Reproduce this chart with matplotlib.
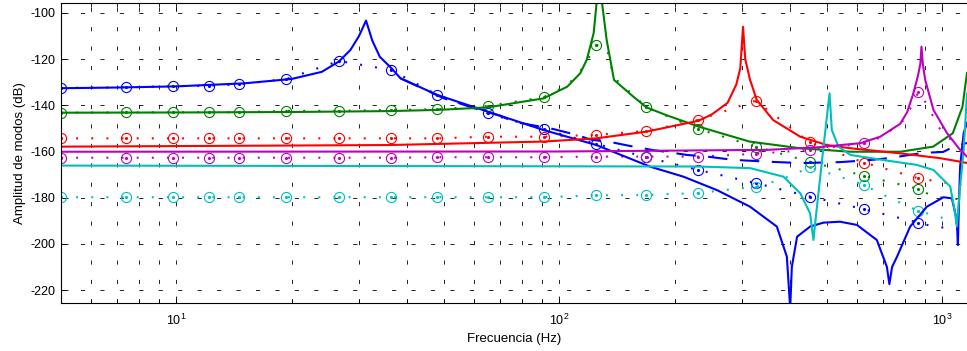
import numpy as np
import matplotlib.pyplot as plt

plt.rcParams['font.family'] = ['Liberation Sans', 'DejaVu Sans']
plt.rcParams['axes.unicode_minus'] = False
plt.rcParams['lines.scale_dashes'] = False

# frequencies of the circle markers (Hz)
f_mk = [5, 7.4, 9.8, 12.2, 14.6, 19.4, 26.6, 36.4, 48, 65, 91, 125, 169, 231, 326, 451, 625, 867]

# ---- mode 1 (blue)
blue_f = [5, 7, 10, 15, 20, 24, 26.6, 28.5, 30, 31.3, 32.5, 34, 36.5, 38.5, 48, 65, 91, 125, 173,
          211, 258, 315, 370, 393, 401, 405, 418, 452, 490, 541, 599, 675, 717, 728, 740, 762, 825,
          912, 1008, 1060, 1092, 1099, 1105, 1114, 1138, 1161]
blue_db = [-132.6, -132.3, -131.8, -130.5, -128.6, -125.5, -121, -116, -110, -103.3, -112, -119,
           -124, -128.3, -135.5, -142.7, -150.7, -157.2, -166.6,
           -170.9, -176.7, -183.9, -192.5, -205.5, -228, -209.9, -196.9, -192.5, -190.8, -190.4,
           -191.8, -198.3, -209.9, -217.4, -210, -205.6, -192.5,
           -183.9, -179.8, -180.3, -189.7, -200.5, -185, -166.5, -152, -147.6]
blue_dash_f = [38.5, 50, 62, 70, 76, 89, 96.6, 111, 120.5, 139, 153, 176, 191, 216, 243, 284, 349,
               426, 541, 649, 731, 891, 1006, 1069, 1161]
blue_dash_db = [-128.3, -137, -142, -144.5, -147.1, -149.2, -150.3, -152.8, -154.8, -156.2, -157.6,
                -159.4, -160.2, -161.5, -162.2, -163.6, -164.4, -165, -164.6, -163.7, -162.8,
                -160.6, -160.2, -158, -156.3]
blue_mk = [-132.5, -132.2, -131.7, -131.5, -130.9, -128.6, -120.8, -124.7, -135.5, -143.5, -150.4,
           -156.7, -162.5, -168, -173.7, -179.5, -185, -190.8]
blue_dot_f = [950, 1161]
blue_dot_db = [-192.5, -194]

# ---- mode 2 (green)
green_f = [5, 10, 20, 36, 48, 65, 91, 105, 113.5, 118, 123, 127, 133, 139, 156, 169, 190, 231, 314,
           426, 576, 778, 947, 1066, 1130, 1161]
green_db = [-143.2, -143.1, -142.9, -142.5, -142, -140.9, -137, -131.9, -126.1, -120.3, -108.8, -85,
            -111.7, -129, -136.2, -140.9, -144.2, -149.2, -155.7,
            -158.6, -160.1, -160.1, -157.9, -152.1, -140.6, -126]
green_mk = [-143.2, -143.1, -143, -143, -143, -142.4, -142.4, -142, -141.7, -140.3, -136.5, -113.9,
            -140.9, -150.3, -157.9, -164.4, -170.5, -176.2]
green_dot_f = [105, 115, 133, 139, 950, 1161]
green_dot_db = [-131.5, -124, -115, -128, -179.6, -181]

# ---- mode 3 (red)
red_f = [5, 36, 91, 125, 169, 231, 250, 275, 290, 297, 302, 306, 315, 328, 362, 426, 500, 576, 777,
         988, 1114, 1161]
red_db = [-157.9, -157.2, -155.7, -154.3, -151.4, -146.7, -144, -139, -131, -124, -106, -120, -129,
          -137.7, -146.4, -153.6, -157.2, -158.6, -160.8, -162.9, -164.4, -165]
red_mk = [-154.3, -154.3, -154.3, -154.3, -154.3, -154.3, -154.3, -154.3, -154.3, -153.6, -153.6,
          -152.8, -151.1, -146.3, -138, -156.1, -164.8, -171.6]
red_dot_f = [1000, 1161]
red_dot_db = [-173.3, -174.5]

# ---- mode 4 (cyan)
cyan_f = [5, 231, 315, 385, 426, 452, 461, 471, 490, 508, 515, 536, 576, 702, 859, 949, 1050, 1081,
          1092, 1114, 1138, 1161]
cyan_db = [-166.1, -166.5, -167.2, -170.9, -178.1, -186.8, -198.3, -183.9, -157.9, -134.8, -150.7,
           -157.9, -161.5, -163.7, -165.8, -168, -175.2, -186.8, -192.5, -175, -159.3, -135]
cyan_mk = [-179.8, -179.8, -179.8, -179.8, -179.8, -179.8, -179.8, -179.8, -179.8, -179.8, -179.8,
           -179, -178.8, -178, -175.2, -166.9, -174.5, -185.8]
cyan_dot_f = [378, 520, 649, 717, 968, 1161]
cyan_dot_db = [-172.3, -170, -175.9, -179.5, -187.9, -192.5]

# ---- mode 5 (magenta)
mag_f = [5, 100, 349, 472, 576, 611, 689, 777, 810, 841, 865, 877, 883, 890, 903, 949, 1030, 1114,
         1161]
mag_db = [-160.1, -160, -159.3, -158.2, -156.8, -156.4, -153.6, -148, -143, -134.8, -127, -122,
          -114.6, -122, -129, -142, -152.1, -159.3, -162.2]
mag_mk = [-162.7, -162.7, -162.7, -162.7, -162.7, -162.7, -162.7, -162.7, -162.5, -162.5, -162.5,
          -162.2, -162.2, -162.2, -161, -159.3, -156.5, -134.2]
mag_dot_f = [700, 800, 900, 1000, 1161]
mag_dot_db = [-153.6, -146, -138, -152, -160]

modes = [
    ('b', blue_f, blue_db, blue_mk, blue_dot_f, blue_dot_db),
    ((0, 0.5, 0), green_f, green_db, green_mk, green_dot_f, green_dot_db),
    ('r', red_f, red_db, red_mk, red_dot_f, red_dot_db),
    ((0, 0.75, 0.75), cyan_f, cyan_db, cyan_mk, cyan_dot_f, cyan_dot_db),
    ((0.75, 0, 0.75), mag_f, mag_db, mag_mk, mag_dot_f, mag_dot_db),
]

fig = plt.figure(figsize=(9.67, 3.51), dpi=100)
ax = fig.add_axes([61/967, 1 - 303/351, 1 - 61/967, 300/351])

for col, f, db, mk, df, ddb in modes:
    # dotted curve through the markers plus a few extra points
    fd = np.array(f_mk + df)
    dd = np.array(mk + ddb)
    order = np.argsort(fd)
    ax.plot(fd[order], dd[order], color=col, lw=1.5, ls=(0, (1.4, 9.5)))
    ax.plot(f_mk, mk, 'o', color=col, mfc='none', ms=7.3, mew=0.8)
    ax.plot(f_mk, mk, '.', color=col, ms=2.5)

ax.plot(blue_dash_f, blue_dash_db, color='b', lw=1.5, ls=(0, (14, 9)))

for col, f, db, mk, df, ddb in modes:
    ax.plot(f, db, color=col, lw=1.5)

ax.set_xscale('log')
ax.set_xlim(5, 1161)
ax.set_ylim(-225.6, -95.7)
ax.set_yticks([-220, -200, -180, -160, -140, -120, -100])

ax.grid(True, which='major', color='k', lw=0.6, ls=(0, (3, 11)))
ax.grid(True, which='minor', axis='x', color='k', lw=0.6, ls=(0, (3, 11)))
ax.tick_params(which='both', direction='in', top=True, right=False, labelsize=9, width=0.6)
ax.tick_params(which='major', length=5)
ax.tick_params(which='minor', length=3)
ax.tick_params(axis='x', which='major', pad=7)
ax.tick_params(axis='y', which='major', pad=4)
ax.spines['right'].set_visible(False)
for s in ['left', 'bottom', 'top']:
    ax.spines[s].set_linewidth(0.8)

ax.set_xlabel('Frecuencia (Hz)', fontsize=9.5, labelpad=4)
ax.set_ylabel('Amplitud de modos (dB)', fontsize=9.5, labelpad=3)

fig.savefig('out.png', dpi=100)
